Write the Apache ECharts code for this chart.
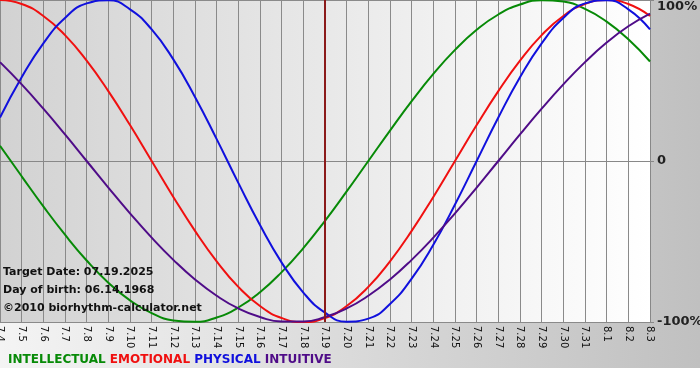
<!DOCTYPE html>
<html><head><meta charset="utf-8">
<script src="https://cdn.jsdelivr.net/npm/echarts@6/dist/echarts.min.js"></script>
<style>html,body{margin:0;padding:0;background:#fff}#c{width:700px;height:380px}</style>
</head><body><div id="c"></div>
<script>
var categories = ['7.4','7.5','7.6','7.7','7.8','7.9','7.10','7.11','7.12','7.13','7.14','7.15','7.16','7.17','7.18','7.19','7.20','7.21','7.22','7.23','7.24','7.25','7.26','7.27','7.28','7.29','7.30','7.31','8.1','8.2','8.3'];
var intellectual = [0.095,-0.095,-0.282,-0.458,-0.618,-0.756,-0.866,-0.945,-0.990,-0.999,-0.972,-0.910,-0.815,-0.690,-0.541,-0.372,-0.189,0,0.189,0.372,0.541,0.690,0.815,0.910,0.972,0.999,0.990,0.945,0.866,0.756,0.618];
var emotional = [1.000,0.975,0.901,0.782,0.623,0.434,0.223,0,-0.223,-0.434,-0.623,-0.782,-0.901,-0.975,-1.000,-0.975,-0.901,-0.782,-0.623,-0.434,-0.223,0,0.223,0.434,0.623,0.782,0.901,0.975,1.000,0.975,0.901];
var physical = [0.270,0.520,0.731,0.888,0.979,0.998,0.942,0.817,0.631,0.398,0.136,-0.136,-0.398,-0.631,-0.817,-0.942,-0.998,-0.979,-0.888,-0.731,-0.520,-0.270,0,0.270,0.520,0.731,0.888,0.979,0.998,0.942,0.817];
var intuitive = [0.614,0.476,0.325,0.165,0,-0.165,-0.325,-0.476,-0.614,-0.736,-0.837,-0.916,-0.969,-0.997,-0.997,-0.969,-0.916,-0.837,-0.736,-0.614,-0.476,-0.325,-0.165,0,0.165,0.325,0.476,0.614,0.736,0.837,0.916];
var targetDay = '7.19';
var yTickLabels = {'1':'{t|100%}','0':'0','-1':'-100%'};
var infoLines = ['Target Date: 07.19.2025','Day of birth: 06.14.1968','\u00A92010 biorhythm-calculator.net'];
var legendNames = ['INTELLECTUAL','EMOTIONAL','PHYSICAL','INTUITIVE'];
var colors = ['#078a07','#f01010','#1010dd','#4f0c88'];

var chart = echarts.init(document.getElementById('c'), null, {renderer:'canvas'});
var font = 'DejaVu Sans';
function line(name, data, color, extra){
  var s = {name:name, type:'line', data:data, smooth:0.5, symbol:'none',
    lineStyle:{color:color, width:2}, itemStyle:{color:color}, z:3};
  if (extra) for (var k in extra) s[k]=extra[k];
  return s;
}
var option = {
  animation:false,
  backgroundColor:'#ffffff',
  graphic:[
    {type:'rect', z:-100, shape:{x:0,y:0,width:700,height:368},
      style:{fill:new echarts.graphic.LinearGradient(0,0,1,0,[{offset:0,color:'#f4f4f4'},{offset:1,color:'#c0c0c0'}])}, silent:true},
    {type:'text', left:3, top:263, z:50, style:{text:infoLines.join('\n'), font:'bold 11px "DejaVu Sans"', fill:'#111', lineHeight:18}},
    {type:'text', left:8, top:354, z:50, style:{
      text:'{a|'+legendNames[0]+'} {b|'+legendNames[1]+'} {c|'+legendNames[2]+'} {d|'+legendNames[3]+'}',
      font:'bold 12px "DejaVu Sans"',
      rich:{a:{fill:colors[0],font:'bold 12px "DejaVu Sans"'},b:{fill:colors[1],font:'bold 12px "DejaVu Sans"'},c:{fill:colors[2],font:'bold 12px "DejaVu Sans"'},d:{fill:colors[3],font:'bold 12px "DejaVu Sans"'}}
    }}
  ],
  grid:{left:0, top:0, width:650, height:322, show:true, borderWidth:0, containLabel:false, outerBoundsMode:'none',
    backgroundColor:new echarts.graphic.LinearGradient(0,0,1,0,[{offset:0,color:'#d2d2d2'},{offset:1,color:'#ffffff'}])},
  xAxis:{type:'category', data:categories, boundaryGap:false,
    axisLine:{show:true, lineStyle:{color:'#888', width:1}},
    axisTick:{show:true, length:5, alignWithLabel:true, lineStyle:{color:'#888'}},
    splitLine:{show:true, lineStyle:{color:'#8a8a8a', width:1}},
    axisLabel:{rotate:-90, interval:0, fontSize:10, color:'#111', fontFamily:font, margin:4, hideOverlap:false}},
  yAxis:{type:'value', position:'right', min:-1, max:1, interval:1,
    axisLine:{show:true, lineStyle:{color:'#888'}},
    axisTick:{show:true, length:4, lineStyle:{color:'#888'}},
    splitLine:{show:true, lineStyle:{color:'#8a8a8a', width:1}},
    axisLabel:{color:'#222', fontWeight:'bold', fontSize:13, fontFamily:font, margin:7,
      rich:{t:{color:'#222', fontWeight:'bold', fontSize:13, fontFamily:font, padding:[14,0,0,0]}},
      formatter:function(v){return yTickLabels[String(Math.round(v))];}}},
  series:[
    line(legendNames[0], intellectual, colors[0], {markLine:{silent:true, symbol:'none', label:{show:false},
      lineStyle:{color:'#8b1a1a', width:2, type:'solid'}, data:[{xAxis:targetDay}]}}),
    line(legendNames[1], emotional, colors[1]),
    line(legendNames[2], physical, colors[2]),
    line(legendNames[3], intuitive, colors[3])
  ]
};
chart.setOption(option);
</script></body></html>
